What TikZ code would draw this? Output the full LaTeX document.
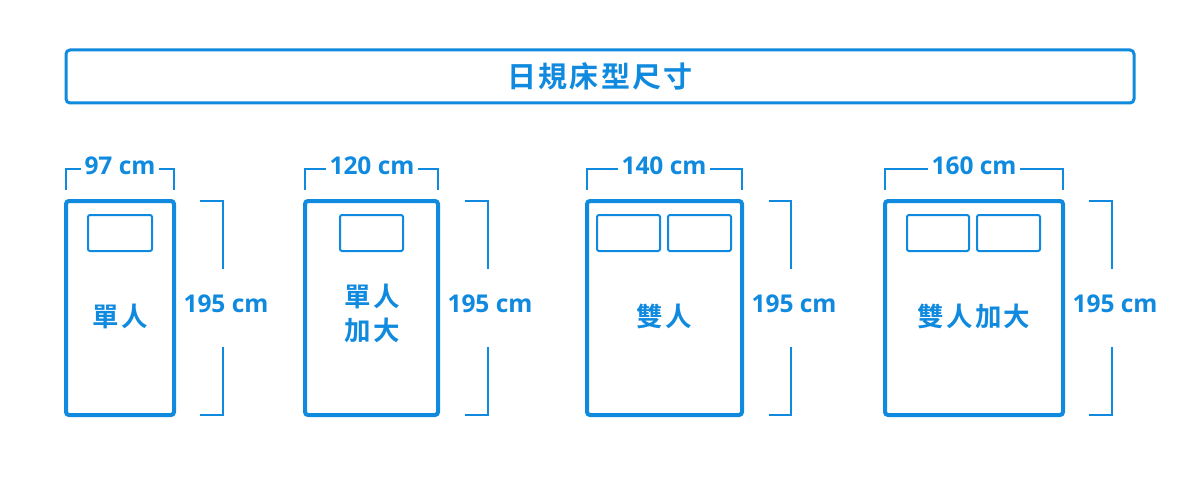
\documentclass[tikz,border=0pt]{standalone}
\usepackage{fontspec}
\newfontfamily\cjk[LetterSpace=8]{Noto Sans CJK TC Bold}
\newfontfamily\numfont{Open Sans Bold}
\definecolor{bl}{RGB}{16,138,222}
\tikzset{
  bed/.style={draw=bl, line width=4pt, rounded corners=3pt},
  pillow/.style={draw=bl, line width=2pt, rounded corners=2pt},
  dim/.style={draw=bl, line width=1.8pt},
  dimtxt/.style={text=bl, font=\numfont\fontsize{24.5}{26}\selectfont, inner sep=0pt, outer sep=4pt},
  lbl/.style={text=bl, font=\cjk\fontsize{26.5}{34}\selectfont, align=center, inner sep=0pt},
}
\begin{document}
\begin{tikzpicture}[x=1pt,y=-1pt]
\useasboundingbox (0,0) rectangle (1200,500);
% title
\draw[draw=bl, line width=3pt, rounded corners=4pt] (66,50) rectangle (1134,103);
\node[text=bl, font=\cjk\fontsize{29}{30}\selectfont, inner sep=0pt] (title) at (600,76) {日規床型尺寸};

% bed 1
\draw[bed] (66,201) rectangle (174,415);
\draw[pillow] (88,215) rectangle (152,251);
\node[lbl] (l1) at (120,316) {單人};
\node[dimtxt] (w1) at (120,166) {97 cm};
\draw[dim] (66,190) -- (66,169) -- (w1.west |- 0,169);
\draw[dim] (174,190) -- (174,169) -- (w1.east |- 0,169);
\node[dimtxt] (h1) at (226,304) {195 cm};
\draw[dim] (200,201) -- (223,201) -- (223,269);
\draw[dim] (200,415) -- (223,415) -- (223,347);

% bed 2
\draw[bed] (305,201) rectangle (438,415);
\draw[pillow] (340,215) rectangle (403,251);
\node[lbl] (l2) at (372,313) {單人\\加大};
\node[dimtxt] (w2) at (372,166) {120 cm};
\draw[dim] (305,190) -- (305,169) -- (w2.west |- 0,169);
\draw[dim] (438,190) -- (438,169) -- (w2.east |- 0,169);
\node[dimtxt] (h2) at (490,304) {195 cm};
\draw[dim] (465,201) -- (488,201) -- (488,269);
\draw[dim] (465,415) -- (488,415) -- (488,347);

% bed 3
\draw[bed] (587,201) rectangle (742,415);
\draw[pillow] (597,215) rectangle (660,251);
\draw[pillow] (668,215) rectangle (731,251);
\node[lbl] (l3) at (664,316) {雙人};
\node[dimtxt] (w3) at (664,166) {140 cm};
\draw[dim] (587,190) -- (587,169) -- (w3.west |- 0,169);
\draw[dim] (742,190) -- (742,169) -- (w3.east |- 0,169);
\node[dimtxt] (h3) at (794,304) {195 cm};
\draw[dim] (769,201) -- (791,201) -- (791,269);
\draw[dim] (769,415) -- (791,415) -- (791,347);

% bed 4
\draw[bed] (885,201) rectangle (1063,415);
\draw[pillow] (907,215) rectangle (969,251);
\draw[pillow] (977,215) rectangle (1040,251);
\node[lbl] (l4) at (974,316) {雙人加大};
\node[dimtxt] (w4) at (974,166) {160 cm};
\draw[dim] (885,190) -- (885,169) -- (w4.west |- 0,169);
\draw[dim] (1063,190) -- (1063,169) -- (w4.east |- 0,169);
\node[dimtxt] (h4) at (1115,304) {195 cm};
\draw[dim] (1089,201) -- (1112,201) -- (1112,269);
\draw[dim] (1089,415) -- (1112,415) -- (1112,347);
\end{tikzpicture}
\end{document}
